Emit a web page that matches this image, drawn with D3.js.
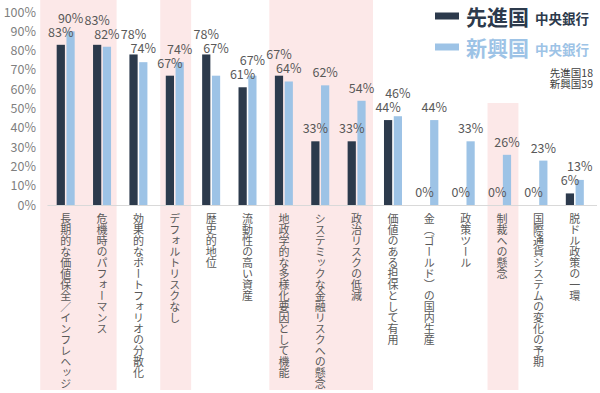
<!DOCTYPE html>
<html>
<head>
<meta charset="utf-8">
<script src="https://cdn.jsdelivr.net/npm/d3@7"></script>
<style>
  body { margin: 0; background: #fff; }
  text { font-family: "Noto Sans CJK JP", "Noto Sans", sans-serif; }
</style>
</head>
<body>
<div id="chart"></div>
<script>
// Chart size
const width = 600;
const height = 393;

// Categories and values (share of central banks)
const categories = [
  "長期的な価値保全／インフレヘッジ",
  "危機時のパフォーマンス",
  "効果的なポートフォリオの分散化",
  "デフォルトリスクなし",
  "歴史的地位",
  "流動性の高い資産",
  "地政学的な多様化要因として機能",
  "システミックな金融リスクへの懸念",
  "政治リスクの低減",
  "価値のある担保として有用",
  "金（ゴールド）の国内生産",
  "政策ツール",
  "制裁への懸念",
  "国際通貨システムの変化の予期",
  "脱ドル政策の一環"
];
const advanced = [0.83, 0.83, 0.78, 0.67, 0.78, 0.61, 0.67, 0.33, 0.33, 0.44, 0, 0, 0, 0, 0.06];
const emerging = [0.90, 0.82, 0.74, 0.74, 0.67, 0.67, 0.64, 0.62, 0.54, 0.46, 0.44, 0.33, 0.26, 0.23, 0.13];
const yTicks = [0, 0.1, 0.2, 0.3, 0.4, 0.5, 0.6, 0.7, 0.8, 0.9, 1.0];

// Highlighted category groups (first index, last index, starts at top?)
const highlights = [[0, 1, true], [3, 3, true], [6, 8, true], [12, 12, false]];

const seriesNames = ["先進国", "新興国"];
const seriesSub = "中央銀行";
const sampleNotes = ["先進国18", "新興国39"];

const darkColor = "#2c3a4c";
const lightColor = "#9dc3e6";

const svg = d3.select("#chart")
  .append("svg")
  .attr("width", width)
  .attr("height", height);

// Scales
const x = d3.scaleBand()
  .domain(d3.range(categories.length))
  .range([47.5, 593])
  .paddingInner(0)
  .paddingOuter(0);

const xInner = d3.scaleBand()
  .domain([0, 1])
  .range([x.bandwidth() / 2 - 9, x.bandwidth() / 2 + 9])
  .paddingInner(0.16);

const y = d3.scaleLinear()
  .domain([0, 1])
  .range([205, 12]);

// Pink highlight bands
svg.append("g")
  .selectAll("rect")
  .data(highlights)
  .join("rect")
  .attr("x", d => x(d[0]) + x.bandwidth() * (d[0] === 0 ? -0.2 : 0.1))
  .attr("width", d => x(d[1]) - x(d[0]) + x.bandwidth() * (d[0] === 0 ? 1.1 : 0.85))
  .attr("y", d => d[2] ? 0 : 103)
  .attr("height", d => d[2] ? 390 : 287)
  .attr("fill", "#fce8e8");

// Baseline
svg.append("line")
  .attr("x1", 47.5)
  .attr("x2", 597)
  .attr("y1", y(0) + 0.5)
  .attr("y2", y(0) + 0.5)
  .attr("stroke", "#d9d9d9")
  .attr("stroke-width", 1);

// Y axis labels
const yAxis = d3.axisLeft(y)
  .tickValues(yTicks)
  .tickFormat(d3.format(".0%"))
  .tickSize(0)
  .tickPadding(0);

svg.append("g")
  .attr("transform", "translate(36,0)")
  .call(yAxis)
  .call(g => g.select(".domain").remove())
  .call(g => g.selectAll("text")
    .attr("fill", "#7f7f7f")
    .style("font-size", "12.5px"));

// Bars
const rows = categories.map((c, i) => ({ i, values: [advanced[i], emerging[i]] }));

const groups = svg.append("g")
  .selectAll("g")
  .data(rows)
  .join("g")
  .attr("transform", d => `translate(${x(d.i)},0)`);

groups.selectAll("rect")
  .data(d => d.values.map((v, k) => ({ k, v })))
  .join("rect")
  .attr("x", d => xInner(d.k))
  .attr("width", xInner.bandwidth())
  .attr("y", d => y(d.v))
  .attr("height", d => y(0) - y(d.v))
  .attr("fill", d => d.k === 0 ? darkColor : lightColor);

// Value label placement: lower label sits above its bar, higher one is pushed up to clear it
function labelPositions(values) {
  const off = 13.5, gap = 14;
  const lo = values[0] < values[1] || (values[0] === values[1]) ? (values[0] < values[1] ? 0 : 1) : 1;
  const hi = 1 - lo;
  const pos = [];
  let loY = y(values[lo]) - off;
  if (lo === 1) loY = Math.min(loY, y(values[hi]) - 7);
  pos[lo] = loY;
  pos[hi] = Math.min(y(values[hi]) - off, loY - gap);
  return pos;
}

groups.selectAll("text")
  .data(d => {
    const pos = labelPositions(d.values);
    return d.values.map((v, k) => ({ k, v, ly: pos[k] }));
  })
  .join("text")
  .attr("x", d => xInner(d.k) + xInner.bandwidth() / 2)
  .attr("y", d => d.ly)
  .attr("text-anchor", "middle")
  .attr("dominant-baseline", "central")
  .attr("fill", "#595959")
  .style("font-size", "12.5px")
  .text(d => d3.format(".0%")(d.v));

// Category labels, vertical
svg.append("g")
  .selectAll("text")
  .data(categories)
  .join("text")
  .attr("x", (d, i) => x(i) + x.bandwidth() / 2)
  .attr("y", 213)
  .style("writing-mode", "vertical-rl")
  .style("font-size", "11px")
  .attr("fill", "#595959")
  .text(d => d);

// Legend
const legend = svg.append("g");
[0, 1].forEach(k => {
  const ly = 16 + k * 31;
  const col = k === 0 ? darkColor : lightColor;
  legend.append("rect")
    .attr("x", 435)
    .attr("y", ly - 3.5)
    .attr("width", 24)
    .attr("height", 7)
    .attr("fill", col);
  legend.append("text")
    .attr("x", 466)
    .attr("y", ly)
    .attr("dominant-baseline", "central")
    .attr("fill", col)
    .style("font-size", "21px")
    .style("font-weight", "bold")
    .text(seriesNames[k]);
  legend.append("text")
    .attr("x", 535)
    .attr("y", ly + 2)
    .attr("dominant-baseline", "central")
    .attr("fill", col)
    .style("font-size", "13.5px")
    .style("font-weight", "bold")
    .text(seriesSub);
});

legend.selectAll(".note")
  .data(sampleNotes)
  .join("text")
  .attr("class", "note")
  .attr("x", 593)
  .attr("y", (d, i) => 72 + i * 11.5)
  .attr("text-anchor", "end")
  .attr("dominant-baseline", "central")
  .attr("fill", "#404040")
  .style("font-size", "10.5px")
  .text(d => d);
</script>
</body>
</html>
